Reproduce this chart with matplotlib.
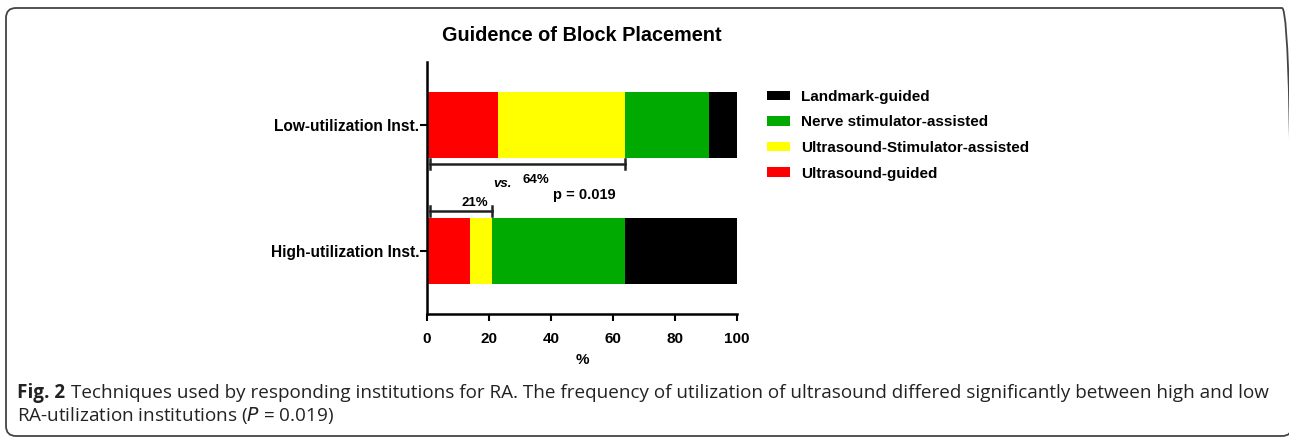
import matplotlib

matplotlib.use("Agg")
import matplotlib.pyplot as plt
from matplotlib.patches import FancyBboxPatch, Patch

# Stacked shares (%) per institution group, bottom-to-top on the y axis
GROUPS = ["High-utilization Inst.", "Low-utilization Inst."]
TECHNIQUES = [
    "Ultrasound-guided",
    "Ultrasound-Stimulator-assisted",
    "Nerve stimulator-assisted",
    "Landmark-guided",
]
SHARES = {
    "Ultrasound-guided": [14, 23],
    "Ultrasound-Stimulator-assisted": [7, 41],
    "Nerve stimulator-assisted": [43, 27],
    "Landmark-guided": [36, 9],
}
COLORS = {
    "Ultrasound-guided": "#ff0000",
    "Ultrasound-Stimulator-assisted": "#ffff00",
    "Nerve stimulator-assisted": "#00aa00",
    "Landmark-guided": "#000000",
}
ULTRASOUND_TOTAL = [21, 64]  # high, low
P_VALUE = "0.019"
XTICKS = [0, 20, 40, 60, 80, 100]

W, H = 1289, 437
fig = plt.figure(figsize=(W / 100, H / 100), dpi=100)

# rounded frame around the figure panel (pixel coords, runs off the right edge)
frame = FancyBboxPatch(
    (6, 1), 1292 - 6, 429 - 1,
    boxstyle="round,pad=0,rounding_size=10",
    transform=None, fill=False, edgecolor="#444444", linewidth=1.3,
)
fig.patches.append(frame)

ax = fig.add_axes([427 / W, 1 - 314 / H, (737 - 427) / W, (314 - 62) / H])

font = "Liberation Sans"
left = [0, 0]
for tech in TECHNIQUES:
    vals = SHARES[tech]
    ax.barh(range(len(GROUPS)), vals, left=left, height=0.52,
            color=COLORS[tech], edgecolor="none", label=tech)
    left = [a + b for a, b in zip(left, vals)]

ax.set_xlim(0, 100)
ax.set_ylim(-0.5, 1.5)
ax.set_xticks(XTICKS)
ax.set_yticks(range(len(GROUPS)))
ax.set_yticklabels(GROUPS)
for lab in ax.get_xticklabels():
    lab.set_fontfamily(font)
    lab.set_fontweight("bold")
    lab.set_fontsize(11)
for lab in ax.get_yticklabels():
    lab.set_fontfamily(font)
    lab.set_fontweight("bold")
    lab.set_fontsize(11.2)
ax.tick_params(axis="both", width=1.5, length=5, direction="out")
ax.tick_params(axis="y", pad=0.5)
ax.tick_params(axis="x", pad=8)
for side in ("top", "right"):
    ax.spines[side].set_visible(False)
for side in ("left", "bottom"):
    ax.spines[side].set_linewidth(1.8)
ax.set_xlabel("%", fontfamily=font, fontweight="bold", fontsize=11, labelpad=5)
ax.set_title("Guidence of Block Placement", fontfamily=font, fontweight="bold",
             fontsize=14.3, pad=15)


# brackets showing ultrasound share
def bracket(y, x1, x2):
    ax.plot([x1, x2], [y, y], color="#222222", linewidth=1.8, clip_on=False)
    for x in (x1, x2):
        ax.plot([x, x], [y - 0.04, y + 0.04], color="#222222",
                linewidth=1.8, clip_on=False)


bracket(0.69, 1, ULTRASOUND_TOTAL[1])
bracket(0.32, 1, ULTRASOUND_TOTAL[0])
ax.text(35, 0.56, f"{ULTRASOUND_TOTAL[1]}%", fontfamily=font,
        fontweight="bold", fontsize=9.5, ha="center", va="center")
ax.text(24.5, 0.53, "vs.", fontfamily=font, fontweight="bold",
        fontstyle="italic", fontsize=9.5, ha="center", va="center")
ax.text(40.5, 0.445, f"p = {P_VALUE}", fontfamily=font, fontweight="bold",
        fontsize=10.5, ha="left", va="center")
ax.text(15.5, 0.38, f"{ULTRASOUND_TOTAL[0]}%", fontfamily=font,
        fontweight="bold", fontsize=9.5, ha="center", va="center")

handles = [Patch(facecolor=COLORS[t], edgecolor="none", label=t)
           for t in reversed(TECHNIQUES)]
fig.legend(handles=handles, loc="upper left",
           bbox_to_anchor=(753 / W, 1 - 76 / H), frameon=False,
           prop={"family": font, "weight": "bold", "size": 11},
           handlelength=1.5, handleheight=0.6, handletextpad=0.75,
           labelspacing=0.76)

cap_font = "Open Sans"
cap_size = 13.55
fig_lbl = fig.text(17 / W, 1 - 393 / H, "Fig. 2", fontfamily=cap_font,
                   fontweight="bold", fontsize=cap_size, color="#222222",
                   va="center")
fig.canvas.draw()
bb = fig_lbl.get_window_extent()
fig.text((bb.x1 + 6) / W, 1 - 393 / H,
         "Techniques used by responding institutions for RA. The frequency of "
         "utilization of ultrasound differed significantly between high and low",
         fontfamily=cap_font, fontsize=cap_size, color="#222222", va="center")
fig.text(17 / W, 1 - 416 / H,
         "RA-utilization institutions ($\\it{P}$ = 0.019)",
         fontfamily=cap_font, fontsize=cap_size, color="#222222", va="center")

fig.savefig("out.png", dpi=100)
